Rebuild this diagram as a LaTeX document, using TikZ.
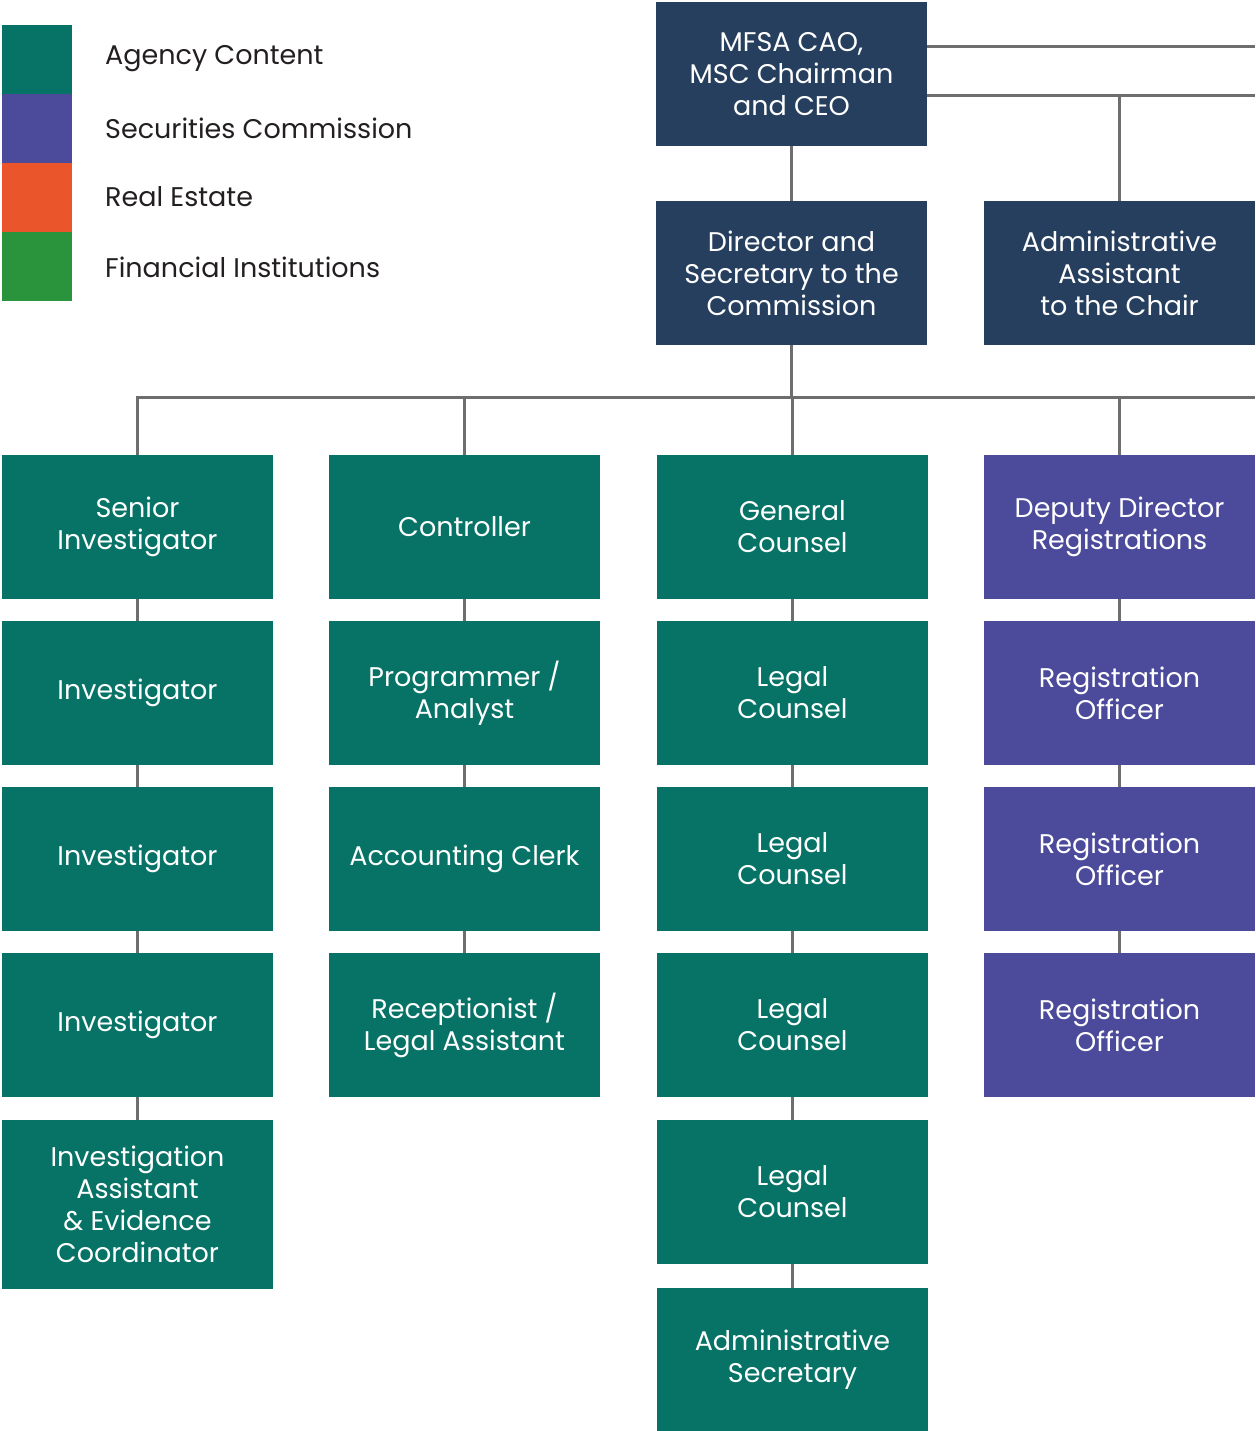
\documentclass[tikz,border=0pt]{standalone}
\usepackage{fontspec}
\setmainfont{Poppins}
\usepackage{tikz}
\usetikzlibrary{backgrounds}
\definecolor{navy}{HTML}{273F5F}
\definecolor{agency}{HTML}{067366}
\definecolor{secur}{HTML}{4B4A9B}
\definecolor{realest}{HTML}{EA552B}
\definecolor{fininst}{HTML}{2A943D}
\definecolor{wire}{HTML}{6E6E6E}
\definecolor{legtext}{HTML}{231F20}

\begin{document}
\begin{tikzpicture}[x=1pt,y=-1pt,
  font=\fontsize{27}{32}\selectfont,
  post/.style={fill=#1,text=white,align=center,inner sep=0pt,
               minimum width=271pt,minimum height=144pt},
  post/.default=agency,
  swatch/.style={fill=#1,minimum width=70pt,minimum height=69pt,inner sep=0pt},
  legend/.style={text=legtext,anchor=west,inner sep=0pt},
  wire/.style={draw=wire,line width=3pt},
]
  \useasboundingbox (0,0) rectangle (1255,1431);

  % legend
  \node[swatch=agency]  (sw1) at (37,59.5)  {};
  \node[swatch=secur]   (sw2) at (37,128.5) {};
  \node[swatch=realest] (sw3) at (37,197.5) {};
  \node[swatch=fininst] (sw4) at (37,266.5) {};
  \node[legend] (lg1) at (105,59)  {Agency Content};
  \node[legend] (lg2) at (105,128) {Securities Commission};
  \node[legend] (lg3) at (105,197) {Real Estate};
  \node[legend] (lg4) at (105,267) {Financial Institutions};

  % top
  \node[post=navy] (ceo)   at (791.5,74)  {MFSA CAO,\\MSC Chairman\\and CEO};
  \node[post=navy] (dir)   at (791.5,273) {Director and\\Secretary to the\\Commission};
  \node[post=navy] (chair) at (1119.5,273) {Administrative\\Assistant\\to the Chair};

  % investigations
  \node[post] (sinv) at (137.5,527)  {Senior\\Investigator};
  \node[post] (inv1) at (137.5,693)  {Investigator};
  \node[post] (inv2) at (137.5,859)  {Investigator};
  \node[post] (inv3) at (137.5,1025) {Investigator};
  \node[post,minimum height=169pt] (ieco) at (137.5,1204.5)
    {Investigation\\Assistant\\\& Evidence\\Coordinator};

  % finance
  \node[post] (ctrl) at (464.5,527)  {Controller};
  \node[post] (prog) at (464.5,693)  {Programmer /\\Analyst};
  \node[post] (acct) at (464.5,859)  {Accounting Clerk};
  \node[post] (recp) at (464.5,1025) {Receptionist /\\Legal Assistant};

  % legal
  \node[post] (gc)  at (792.5,527)  {General\\Counsel};
  \node[post] (lc1) at (792.5,693)  {Legal\\Counsel};
  \node[post] (lc2) at (792.5,859)  {Legal\\Counsel};
  \node[post] (lc3) at (792.5,1025) {Legal\\Counsel};
  \node[post] (lc4) at (792.5,1192) {Legal\\Counsel};
  \node[post,minimum height=143pt] (asec) at (792.5,1359.5) {Administrative\\Secretary};

  % registrations
  \node[post=secur] (ddr) at (1119.5,527)  {Deputy Director\\Registrations};
  \node[post=secur] (ro1) at (1119.5,693)  {Registration\\Officer};
  \node[post=secur] (ro2) at (1119.5,859)  {Registration\\Officer};
  \node[post=secur] (ro3) at (1119.5,1025) {Registration\\Officer};

  \coordinate (edge1) at (1255,47);
  \coordinate (edge2) at (1255,96);
  \coordinate (bus)   at (791.5,397);
  \coordinate (busend) at (1255,397);

  \begin{scope}[on background layer]
    \draw[wire] (edge1 -| ceo.east) -- (edge1);
    \draw[wire] (edge2 -| ceo.east) -- (edge2);
    \draw[wire] (chair.north |- edge2) -- (chair.north);
    \draw[wire] (ceo) -- (dir);
    \draw[wire] (dir) -- (bus);
    \draw[wire] (sinv.north) |- (busend);
    \draw[wire] (ctrl.north) -- (ctrl.north |- bus);
    \draw[wire] (gc.north) -- (gc.north |- bus);
    \draw[wire] (ddr.north) -- (ddr.north |- bus);
    \draw[wire] (sinv) -- (inv1) -- (inv2) -- (inv3) -- (ieco);
    \draw[wire] (ctrl) -- (prog) -- (acct) -- (recp);
    \draw[wire] (gc) -- (lc1) -- (lc2) -- (lc3) -- (lc4) -- (asec);
    \draw[wire] (ddr) -- (ro1) -- (ro2) -- (ro3);
  \end{scope}
\end{tikzpicture}
\end{document}
